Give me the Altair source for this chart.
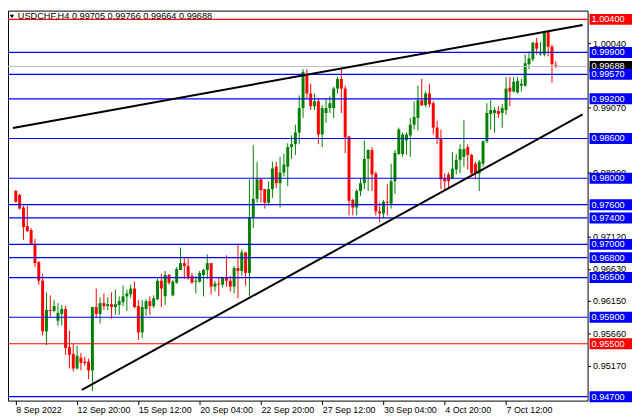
import altair as alt
import pandas as pd

# ---------------- data (USDCHF H4 candles) ----------------
opens = [
    0.97807, 0.97748, 0.97557, 0.97277, 0.97218, 0.97012, 0.96732, 0.96452, 0.95686, 0.96010,
    0.95995, 0.95848, 0.95951, 0.96025, 0.95450, 0.95347, 0.95126, 0.95288, 0.95229, 0.95229,
    0.95097, 0.96054, 0.95951, 0.96113, 0.96069, 0.96098, 0.96054, 0.96084, 0.96128, 0.96216,
    0.96246, 0.96334, 0.96069, 0.95671, 0.96025, 0.96143, 0.96069, 0.96172, 0.96452, 0.96216,
    0.96540, 0.96231, 0.96422, 0.96614, 0.96717, 0.96673, 0.96525, 0.96437, 0.96437, 0.96540,
    0.96614, 0.96717, 0.96363, 0.96408, 0.96393, 0.96496, 0.96452, 0.96363, 0.96643, 0.96599,
    0.96879, 0.96570, 0.97409, 0.97689, 0.97984, 0.97836, 0.97630, 0.97836, 0.98175, 0.97925,
    0.98087, 0.98175, 0.98470, 0.98514, 0.98691, 0.99059, 0.99575, 0.99280, 0.99088, 0.99162,
    0.98661, 0.98985, 0.99059, 0.99059, 0.99354, 0.99501, 0.99354, 0.98632, 0.97674, 0.97557,
    0.97807, 0.97925, 0.98293, 0.98426, 0.98072, 0.97498, 0.97468, 0.97645, 0.97615, 0.97954,
    0.98367, 0.98367, 0.98573, 0.98647, 0.98809, 0.98912, 0.99177, 0.99103, 0.99280, 0.99133,
    0.98764, 0.98602, 0.97998, 0.98057, 0.97998, 0.98131, 0.98278, 0.98323, 0.98470, 0.98352,
    0.98219, 0.98072, 0.98219, 0.98558, 0.98971, 0.98985, 0.99015, 0.98985, 0.99030, 0.99368,
    0.99309, 0.99295, 0.99398, 0.99398, 0.99722, 0.99796, 1.00046, 0.99869, 0.99869, 1.00208,
    0.99987, 0.99705,
]
highs = [
    0.97822, 0.97763, 0.97586, 0.97586, 0.97247, 0.97085, 0.96747, 0.96555, 0.96275, 0.96231,
    0.96157, 0.96113, 0.96084, 0.96069, 0.95701, 0.95494, 0.95465, 0.95362, 0.95303, 0.95273,
    0.96054, 0.96334, 0.96201, 0.96260, 0.96201, 0.96275, 0.96319, 0.96216, 0.96378, 0.96319,
    0.96393, 0.96437, 0.96157, 0.96157, 0.96172, 0.96216, 0.96231, 0.96481, 0.96555, 0.96599,
    0.96555, 0.96467, 0.96658, 0.96953, 0.96791, 0.96791, 0.96570, 0.96525, 0.96599, 0.96629,
    0.96850, 0.96717, 0.96452, 0.96511, 0.96511, 0.96835, 0.96525, 0.96673, 0.97012, 0.96923,
    0.96879, 0.97984, 0.98499, 0.98249, 0.97998, 0.97836, 0.97954, 0.98249, 0.98249, 0.98323,
    0.98367, 0.98529, 0.98647, 0.98809, 0.99251, 0.99648, 0.99648, 0.99427, 0.99280, 0.99206,
    0.99103, 0.99206, 0.99236, 0.99383, 0.99530, 0.99663, 0.99398, 0.98632, 0.97689, 0.97836,
    0.97998, 0.98573, 0.98440, 0.98470, 0.98102, 0.97630, 0.97674, 0.97910, 0.98219, 0.98426,
    0.98764, 0.98691, 0.98691, 0.98912, 0.99162, 0.99398, 0.99501, 0.99309, 0.99427, 0.99162,
    0.98868, 0.98735, 0.98072, 0.98087, 0.98396, 0.98367, 0.98514, 0.98882, 0.98514, 0.98367,
    0.98249, 0.98278, 0.98573, 0.99133, 0.99177, 0.99074, 0.99088, 0.99118, 0.99530, 0.99530,
    0.99530, 0.99530, 0.99501, 0.99869, 0.99913, 1.00061, 1.00120, 1.00061, 1.00223, 1.00223,
    1.00016, 0.99766,
]
lows = [
    0.97630, 0.97527, 0.97070, 0.97188, 0.96997, 0.96658, 0.96393, 0.95627, 0.95480, 0.95907,
    0.95980, 0.95774, 0.95774, 0.95332, 0.95126, 0.95082, 0.95111, 0.95097, 0.95170, 0.94964,
    0.94787, 0.95892, 0.95804, 0.96010, 0.96010, 0.95877, 0.95936, 0.95936, 0.96069, 0.95995,
    0.96187, 0.96039, 0.95553, 0.95583, 0.95922, 0.95936, 0.96039, 0.96157, 0.96054, 0.96084,
    0.96393, 0.96216, 0.96408, 0.96614, 0.96481, 0.96467, 0.96408, 0.96260, 0.96422, 0.96216,
    0.96481, 0.96246, 0.96290, 0.96216, 0.96349, 0.96363, 0.96290, 0.96260, 0.96187, 0.96525,
    0.96378, 0.96216, 0.97247, 0.97630, 0.97630, 0.97542, 0.97586, 0.97704, 0.97851, 0.97557,
    0.98028, 0.97881, 0.98293, 0.98352, 0.98514, 0.98912, 0.99206, 0.99030, 0.99030, 0.98514,
    0.98470, 0.98838, 0.98985, 0.98912, 0.99280, 0.98985, 0.98381, 0.97439, 0.97439, 0.97439,
    0.97733, 0.97836, 0.97807, 0.97807, 0.97439, 0.97336, 0.97395, 0.97439, 0.97542, 0.97763,
    0.98352, 0.98323, 0.98352, 0.98323, 0.98735, 0.98720, 0.99088, 0.99074, 0.99074, 0.98661,
    0.98514, 0.97836, 0.97807, 0.97836, 0.97984, 0.98057, 0.98072, 0.98175, 0.98131, 0.98028,
    0.97984, 0.97807, 0.98175, 0.98529, 0.98735, 0.98691, 0.98912, 0.98764, 0.98956, 0.99088,
    0.99295, 0.99280, 0.99309, 0.99383, 0.99648, 0.99766, 0.99869, 0.99854, 0.99840, 0.99840,
    0.99442, 0.99664,
]
closes = [
    0.97645, 0.97542, 0.97262, 0.97203, 0.97012, 0.96717, 0.96452, 0.95686, 0.96010, 0.95995,
    0.96069, 0.95966, 0.96025, 0.95435, 0.95332, 0.95126, 0.95318, 0.95214, 0.95207, 0.95097,
    0.96054, 0.95951, 0.96113, 0.96069, 0.96098, 0.96054, 0.96098, 0.96143, 0.96216, 0.96260,
    0.96334, 0.96054, 0.95671, 0.96054, 0.96143, 0.96069, 0.96187, 0.96452, 0.96334, 0.96540,
    0.96422, 0.96437, 0.96629, 0.96717, 0.96673, 0.96511, 0.96422, 0.96452, 0.96570, 0.96614,
    0.96717, 0.96363, 0.96408, 0.96393, 0.96496, 0.96452, 0.96363, 0.96643, 0.96599, 0.96879,
    0.96570, 0.97409, 0.97689, 0.97984, 0.97822, 0.97630, 0.97836, 0.98146, 0.97925, 0.98087,
    0.98205, 0.98470, 0.98514, 0.98691, 0.99059, 0.99604, 0.99280, 0.99088, 0.99162, 0.98661,
    0.99059, 0.99059, 0.99133, 0.99354, 0.99501, 0.99354, 0.98617, 0.97660, 0.97557, 0.97807,
    0.97925, 0.98293, 0.98426, 0.98057, 0.97498, 0.97468, 0.97645, 0.97630, 0.97954, 0.98381,
    0.98735, 0.98661, 0.98661, 0.98809, 0.98926, 0.99177, 0.99103, 0.99280, 0.99118, 0.98764,
    0.98602, 0.97984, 0.97954, 0.97954, 0.98146, 0.98278, 0.98440, 0.98440, 0.98352, 0.98072,
    0.98072, 0.98249, 0.98558, 0.98985, 0.99030, 0.99030, 0.98971, 0.99059, 0.99354, 0.99309,
    0.99457, 0.99471, 0.99427, 0.99737, 0.99810, 1.00046, 0.99958, 0.99884, 1.00208, 0.99987,
    0.99722, 0.99688,
]

x_tick_idx = [0, 16, 32, 48, 64, 80, 96, 112, 128]
x_tick_labels = ["8 Sep 2022", "12 Sep 20:00", "15 Sep 12:00", "20 Sep 04:00", "22 Sep 20:00",
                 "27 Sep 12:00", "30 Sep 04:00", "4 Oct 20:00", "7 Oct 12:00"]
y_tick_values = [1.00040, 0.99070, 0.98090, 0.97120, 0.96630, 0.96150, 0.95660, 0.95170]

blue_levels = [0.99900, 0.99570, 0.99200, 0.98600, 0.98000, 0.97600, 0.97400,
               0.97000, 0.96800, 0.96500, 0.95900, 0.94700]
red_levels = [1.00400, 0.95500]
last_price = 0.99688

# trend lines: (start index, start price, end index, end price)
trend_x1 = [-0.75, 17.25]
trend_y1 = [0.98760, 0.94802]
trend_x2 = [148.0, 148.0]
trend_y2 = [1.00315, 0.98963]

title_text = "USDCHF,H4  0.99705 0.99766 0.99664 0.99688"

# ---------------- layout ----------------
W, H = 587, 395
FONT = "Liberation Sans"
x_dom = [-0.75, 148.0]
y_dom = [0.94641, 1.00532]
half_box = 0.00082

candles = pd.DataFrame({
    "i": list(range(len(opens))),
    "open": opens, "high": highs, "low": lows, "close": closes,
})
candles["dir"] = ["up" if c >= o else "down" for o, c in zip(opens, closes)]

xs = alt.Scale(domain=x_dom, nice=False, zero=False)
ys = alt.Scale(domain=y_dom, nice=False, zero=False)
col = alt.Color("dir:N", scale=alt.Scale(domain=["up", "down"], range=["#008000", "#ff0000"]), legend=None)

label_expr = "[" + ",".join("'" + s + "'" for s in x_tick_labels) + "][round(datum.value / 16)]"

x_axis = alt.Axis(values=x_tick_idx, labelExpr=label_expr, orient="bottom", domain=False, grid=False,
                  ticks=True, tickSize=4, tickColor="black", labelAlign="left", labelBaseline="top",
                  labelPadding=1, labelFont=FONT, labelFontSize=9, labelColor="black",
                  labelFlush=False, labelOverlap=False, title=None)
y_axis = alt.Axis(values=y_tick_values, format=".5f", orient="right", domain=False, grid=False,
                  ticks=True, tickSize=3, tickColor="black", labelPadding=2, labelFont=FONT,
                  labelFontSize=9.3, labelColor="black", labelFlush=False, labelOverlap=False,
                  labelBound=False, title=None)

base = alt.Chart(candles)
wicks = base.mark_rule(strokeWidth=1).encode(
    x=alt.X("i:Q", scale=xs, axis=x_axis),
    y=alt.Y("low:Q", scale=ys, axis=y_axis),
    y2="high:Q",
    color=col,
)
bodies = base.mark_bar(size=3).encode(
    x=alt.X("i:Q", scale=xs),
    y=alt.Y("open:Q", scale=ys),
    y2="close:Q",
    color=col,
)

levels = pd.DataFrame(
    [{"price": last_price, "c": "#c0c0c0"}]
    + [{"price": p, "c": "#0000ff"} for p in blue_levels]
    + [{"price": p, "c": "#ff0000"} for p in red_levels]
)
level_rules = alt.Chart(levels).mark_rule(strokeWidth=1.2).encode(
    y=alt.Y("price:Q", scale=ys),
    color=alt.Color("c:N", scale=None),
)

trends = pd.DataFrame({"x": trend_x1, "y": trend_y1, "x2": trend_x2, "y2": trend_y2})
trend_rules = alt.Chart(trends).mark_rule(strokeWidth=2, color="black").encode(
    x=alt.X("x:Q", scale=xs), x2="x2:Q",
    y=alt.Y("y:Q", scale=ys), y2="y2:Q",
)

boxes = pd.DataFrame(
    [{"price": last_price, "fill": "#000000"}]
    + [{"price": p, "fill": "#0000ff"} for p in blue_levels]
    + [{"price": p, "fill": "#ff0000"} for p in red_levels]
)
boxes["label"] = [f"{p:.5f}" for p in boxes["price"]]
box_rects = alt.Chart(boxes).mark_rect(clip=False).transform_calculate(
    top=f"datum.price + {half_box}", bot=f"datum.price - {half_box}"
).encode(
    x=alt.value(W + 2), x2=alt.value(W + 45),
    y=alt.Y("top:Q", scale=ys), y2="bot:Q",
    fill=alt.Fill("fill:N", scale=None),
)
box_text = alt.Chart(boxes).mark_text(
    align="left", baseline="middle", font=FONT, fontSize=9.3, color="white", clip=False
).encode(
    x=alt.value(W + 4),
    y=alt.Y("price:Q", scale=ys),
    text="label:N",
)

title_df = pd.DataFrame({"t": [title_text]})
title_mark = alt.Chart(title_df).mark_text(
    align="left", baseline="middle", font=FONT, fontSize=9.3, color="black"
).encode(x=alt.value(10), y=alt.value(6), text="t:N")
tri_mark = alt.Chart(title_df).mark_point(
    shape="triangle-down", filled=True, size=18, color="black", opacity=1
).encode(x=alt.value(4), y=alt.value(6))

chart = alt.layer(
    wicks, bodies, level_rules, trend_rules, box_rects, box_text, title_mark, tri_mark
).properties(
    width=W, height=H,
    autosize=alt.AutoSizeParams(type="none"),
    padding={"left": 0, "top": 0, "right": 45, "bottom": 17},
    background="white",
).configure_view(
    stroke="black", strokeWidth=1
)

chart.save("out.html", embed_options={"renderer": "svg", "actions": False})
